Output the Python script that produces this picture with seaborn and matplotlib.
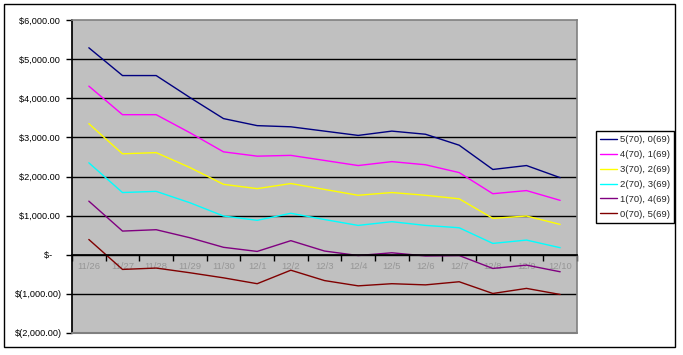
import matplotlib
matplotlib.use("Agg")
import matplotlib.pyplot as plt
import numpy as np
import pandas as pd
import seaborn as sns
from matplotlib.patches import Rectangle
from matplotlib.ticker import FixedLocator, FuncFormatter

# ==========================================
# DATA
# ==========================================
dates = ["11/26", "11/27", "11/28", "11/29", "11/30", "12/1", "12/2", "12/3",
         "12/4", "12/5", "12/6", "12/7", "12/8", "12/9", "12/10"]

series_names = ["5(70), 0(69)", "4(70), 1(69)", "3(70), 2(69)",
                "2(70), 3(69)", "1(70), 4(69)", "0(70), 5(69)"]

s5_0 = [5290, 4580, 4580, 4020, 3480, 3300, 3270, 3160, 3050, 3160, 3080, 2800, 2180, 2280, 1970]
s4_1 = [4310, 3580, 3580, 3120, 2630, 2520, 2540, 2410, 2280, 2380, 2300, 2100, 1560, 1640, 1390]
s3_2 = [3350, 2580, 2610, 2230, 1800, 1690, 1820, 1670, 1520, 1590, 1520, 1430, 930, 990, 775]
s2_3 = [2350, 1590, 1620, 1330, 990, 880, 1060, 900, 750, 845, 750, 690, 290, 375, 180]
s1_4 = [1370, 605, 640, 435, 190, 85, 360, 95, -20, 50, -30, -20, -350, -265, -435]
s0_5 = [390, -375, -340, -460, -590, -740, -395, -660, -795, -740, -770, -690, -990, -860, -1015]

colors = ["#000080", "#FF00FF", "#FFFF00", "#00FFFF", "#800080", "#800000"]


def money(v, pos=None):
    if v == 0:
        return "$-    "
    if v < 0:
        return f"$({abs(v):,.2f})"
    return f"${v:,.2f} "


def main():
    values = [s5_0, s4_1, s3_2, s2_3, s1_4, s0_5]
    frames = []
    for name, vals in zip(series_names, values):
        frames.append(pd.DataFrame({"pos": np.arange(len(dates)),
                                    "value": vals, "series": name}))
    df = pd.concat(frames, ignore_index=True)

    sns.set_theme(style="white")
    plt.rcParams["font.family"] = ["Liberation Sans", "DejaVu Sans"]

    fig = plt.figure(figsize=(6.83, 3.55), dpi=100)
    W, H = 683, 355
    ax = fig.add_axes([72 / W, 1 - 333 / H, (577 - 72) / W, (333 - 20) / H])
    ax.set_facecolor("#C0C0C0")

    sns.lineplot(data=df, x="pos", y="value", hue="series",
                 hue_order=series_names, palette=dict(zip(series_names, colors)),
                 linewidth=1.0, sort=False, ax=ax, legend=False)

    ax.set_xlim(-0.5, len(dates) - 0.5)
    ax.set_ylim(-2000, 6000)

    # gridlines
    for v in range(-1000, 6000, 1000):
        ax.axhline(v, color="black", linewidth=1.0, zorder=1)

    # y axis
    ax.yaxis.set_major_locator(FixedLocator(range(-2000, 6001, 1000)))
    ax.yaxis.set_major_formatter(FuncFormatter(money))
    ax.tick_params(axis="y", direction="out", length=4, width=1, color="black",
                   labelsize=6.6, labelcolor="black", left=True, pad=3)

    # x axis crossing at zero
    ax.spines["bottom"].set_position(("data", 0))
    ax.spines["bottom"].set_color("black")
    ax.xaxis.set_major_locator(FixedLocator(np.arange(-0.5, len(dates), 1.0)))
    ax.xaxis.set_major_formatter(FuncFormatter(lambda v, p: ""))
    ax.set_xticks(np.arange(len(dates)), dates, minor=True)
    ax.tick_params(axis="x", which="major", direction="out", length=4, width=1,
                   color="black", bottom=True)
    ax.tick_params(axis="x", which="minor", length=0, labelsize=6.8,
                   labelcolor="#969696", pad=5, bottom=True)

    for side in ["top", "right"]:
        ax.spines[side].set_color("#808080")
        ax.spines[side].set_linewidth(1.2)
    ax.spines["left"].set_color("black")
    ax.axhline(-2000, color="#808080", linewidth=1.5, zorder=3, clip_on=False)

    ax.set_xlabel("")
    ax.set_ylabel("")

    # legend
    handles = [plt.Line2D([], [], color=c, linewidth=1.0) for c in colors]
    leg = fig.legend(handles, series_names, loc="center left",
                     bbox_to_anchor=(596 / W, 1 - 177 / H), frameon=True,
                     fancybox=False, edgecolor="black", facecolor="white",
                     framealpha=1, fontsize=6.8, handlelength=1.8,
                     handletextpad=0.25, labelspacing=0.62, borderpad=0.45,
                     borderaxespad=0)
    leg.get_frame().set_linewidth(1.0)

    # outer chart border
    fig.patches.append(Rectangle((4 / W, 1 - 347 / H), (675 - 4) / W, (347 - 4) / H,
                                 transform=fig.transFigure, fill=False,
                                 edgecolor="black", linewidth=1.0))

    fig.savefig("out.png", dpi=100)
    plt.close(fig)


if __name__ == "__main__":
    main()
